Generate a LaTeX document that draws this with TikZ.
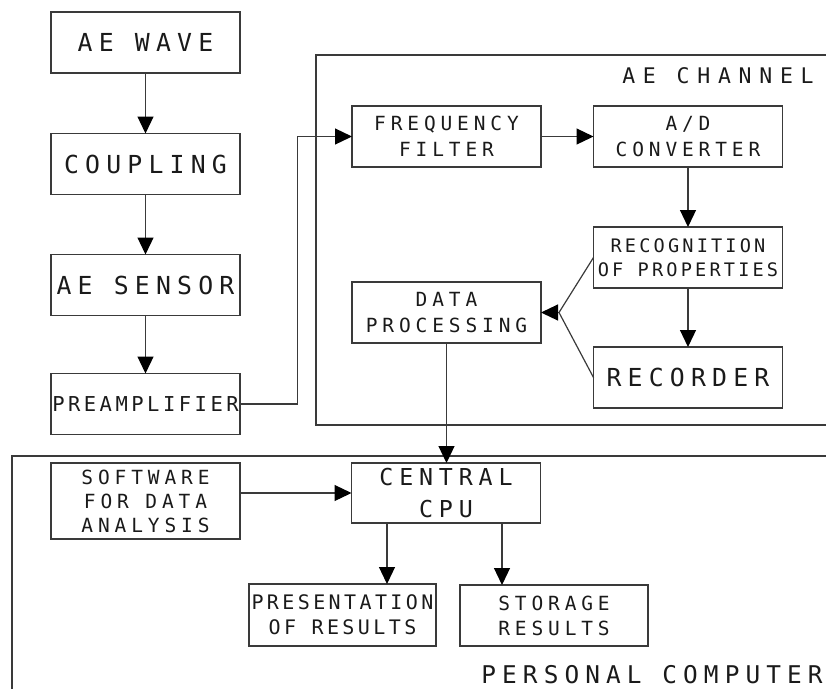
\documentclass[tikz,border=0pt]{standalone}
\usepackage{fontspec}
\newfontfamily\tfm[LetterSpace=25]{DejaVu Sans Mono}
\newfontfamily\tfn[LetterSpace=17]{DejaVu Sans Mono}
\newfontfamily\tfw[LetterSpace=36]{DejaVu Sans Mono}
\usetikzlibrary{arrows.meta}
\definecolor{ln}{HTML}{3A3A3A}
\definecolor{tx}{HTML}{1A1A1A}
\begin{document}
\begin{tikzpicture}[x=1pt,y=-1pt,
  box/.style={draw=ln, line width=1.3pt, inner sep=0pt, outer sep=0pt,
    minimum width=189pt, minimum height=61pt, align=center, text=tx},
  big/.style={font={\tfm\fontsize{24.8}{30}\selectfont}},
  small/.style={font={\tfm\fontsize{19.5}{26.5}\selectfont}},
  arr/.style={draw=ln, line width=1.2pt, -{Triangle[length=17pt,width=16pt,color=black]}},
  conn/.style={draw=ln, line width=1.2pt},
  frame/.style={draw=ln, line width=1.3pt},
  lbl/.style={inner sep=0pt, outer sep=0pt, text=tx}]
\useasboundingbox (0,0) rectangle (826,689);

% frames
\draw[frame] (826,55) -- (316,55) -- (316,425) -- (826,425);
\draw[frame] (826,456) -- (12,456) -- (12,689);

% left column
\node[box,big] (wave) at (145.5,42.5) {AE WAVE};
\node[box,big] (coup) at (145.5,164) {COUPLING};
\node[box,big] (sens) at (145.5,285) {AE SENSOR};
\node[box,font={\tfn\fontsize{20.5}{26}\selectfont}] (pre) at (145.5,404) {PREAMPLIFIER};

% AE channel
\node[box,small] (freq) at (446.5,136.5) {FREQUENCY\\FILTER};
\node[box,small] (ad) at (688,136.5) {A/D\\CONVERTER};
\node[box,font={\tfn\fontsize{18.6}{24}\selectfont}] (recog) at (688,257.5) {RECOGNITION\\OF PROPERTIES};
\node[box,big] (recd) at (688,377.5) {RECORDER};
\node[box,small] (dp) at (446.5,312.5) {DATA\\PROCESSING};
\node[lbl,font={\tfw\fontsize{21.5}{26}\selectfont}] (aech) at (718,76) {AE CHANNEL};

% personal computer
\node[box,font={\tfm\fontsize{23.3}{32}\selectfont},minimum height=60pt] (cpu) at (446,493) {CENTRAL\\CPU};
\node[box,font={\tfm\fontsize{19.5}{24}\selectfont},minimum height=76pt] (soft) at (145.5,501) {SOFTWARE\\FOR DATA\\ANALYSIS};
\node[box,font={\tfn\fontsize{20}{25}\selectfont},minimum width=187pt,minimum height=62pt] (pres) at (342.5,615) {PRESENTATION\\OF RESULTS};
\node[box,font={\tfm\fontsize{19.5}{25}\selectfont},minimum width=188pt,minimum height=61pt] (stor) at (554,615.5) {STORAGE\\RESULTS};
\node[lbl,font={\tfm\fontsize{24.4}{30}\selectfont}] (pc) at (652,675) {PERSONAL COMPUTER};

% connectors
\draw[arr] (wave) -- (coup);
\draw[arr] (coup) -- (sens);
\draw[arr] (sens) -- (pre);
\draw[conn] (pre.east) -- ++(57.5,0) coordinate (p1);
\draw[arr] (p1) |- (freq.west);
\draw[arr] (freq) -- (ad);
\draw[arr] (ad) -- (recog);
\draw[arr] (recog) -- (recd);
\coordinate (m) at (559,312.5);
\draw[conn] (recog.west) -- (m);
\draw[conn] (recd.west) -- (m);
\draw[arr] (m) -- (dp.east);
\draw[arr] (dp.south) -- (dp.south |- cpu.north);
\draw[arr] (soft.east |- cpu.west) -- (cpu.west);
\coordinate (c1) at ([xshift=-59pt]cpu.south);
\coordinate (c2) at ([xshift=56pt]cpu.south);
\draw[arr] (c1) -- (c1 |- pres.north);
\draw[arr] (c2) -- (c2 |- stor.north);
\end{tikzpicture}
\end{document}
